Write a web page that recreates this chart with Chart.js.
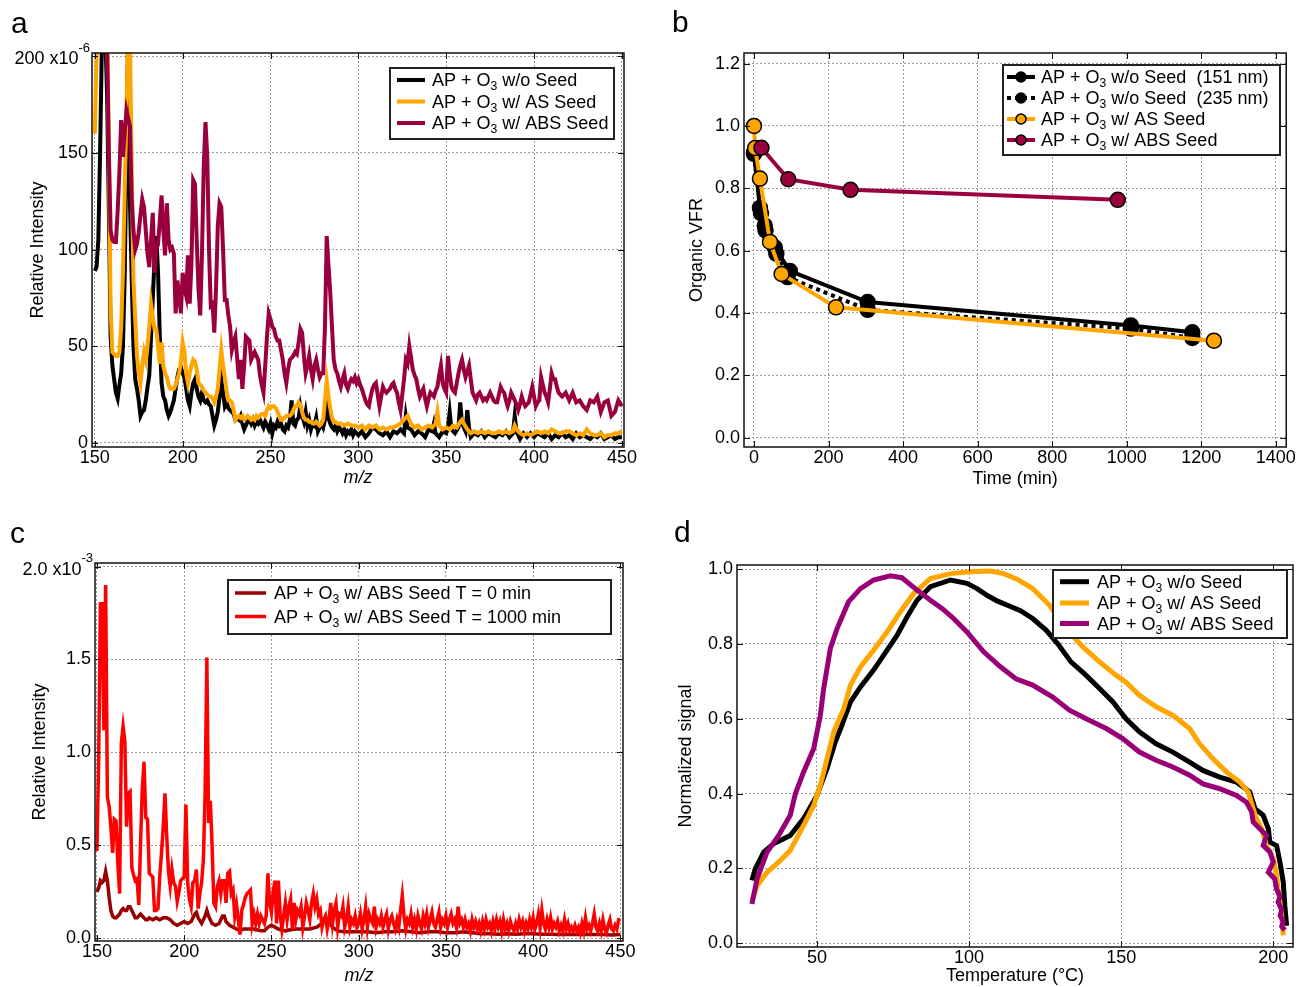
<!DOCTYPE html>
<html>
<head>
<meta charset="utf-8">
<script src="https://cdn.jsdelivr.net/npm/chart.js@4.4.0/dist/chart.umd.min.js"></script>
<style>
  body { margin: 0; background: #fff; width: 1296px; height: 987px; position: relative; overflow: hidden; }
  canvas { position: absolute; }
</style>
</head>
<body>
<canvas id="chartA" width="650" height="493" style="left:0;top:0"></canvas>
<canvas id="chartB" width="646" height="493" style="left:650px;top:0"></canvas>
<canvas id="chartC" width="650" height="494" style="left:0;top:493px"></canvas>
<canvas id="chartD" width="646" height="494" style="left:650px;top:493px"></canvas>
<script>
// ---------- panel a : mass spectra, [m/z, relative intensity x1e-6] ----------
const labelsA = ['AP + O₃ w/o Seed', 'AP + O₃ w/ AS Seed', 'AP + O₃ w/ ABS Seed'];
const xTicksA = [150, 200, 250, 300, 350, 400, 450];
const yTicksA = [0, 50, 100, 150, 200];

const blackA = [[150,89],[151,91],[152,105],[153,150],[154,205],[155,230],[156,210],[157,180],[158,120],[159,55],[160,40],[161,33],[162,26],[163,23],[164,30],[165,36],[166,50],[167,85],[168,150],[169,215],[170,125],[171,85],[172,50],[173,33],[174,28],[175,22],[176,14],[177,16],[178,17],[179,22],[180,29],[181,35],[182,55],[183,75],[184,95],[185,107],[186,88],[187,55],[188,31],[189,24],[190,22],[191,17],[192,14],[193,16],[194,19],[195,22],[196,28],[197,34],[198,38],[199,39],[200,36],[201,34],[202,28],[203,22],[204,19],[205,26],[206,31],[207,33],[208,28],[209,24],[210,22],[211,26],[212,22],[213,21],[214,22],[215,20],[216,19],[217,14],[218,9],[219,12],[220,16],[221,24],[222,33],[223,26],[224,19],[225,21],[226,18],[227,17],[228,16],[229,15],[230,12],[231,13],[232,12],[233,14],[234,10],[235,7],[236,9],[237,11],[238,12],[239,10],[240,12],[241,9],[242,11],[243,10],[244,12],[245,10],[246,8],[247,11],[248,9],[249,7],[250,10],[251,5],[252,9],[253,8],[254,11],[255,9],[256,10],[257,7],[258,6],[259,9],[260,8],[261,12],[262,22],[263,10],[264,9],[265,12],[266,13],[267,19],[268,14],[269,11],[270,16],[271,9],[272,12],[273,7],[274,10],[275,9],[276,13],[277,6],[278,8],[279,10],[280,8],[281,12],[282,24],[283,13],[284,10],[285,8],[286,7],[287,9],[288,6],[289,8],[290,7],[291,5],[292,7],[293,4],[294,6],[295,5],[296,7],[297,4],[298,6],[299,5],[300,4],[302,6],[304,3],[306,5],[308,8],[310,7],[312,5],[314,4],[316,6],[318,3],[320,6],[322,5],[324,7],[326,5],[327,14],[328,8],[330,7],[332,4],[334,6],[336,5],[338,3],[340,7],[342,6],[343,10],[344,5],[346,3],[348,6],[350,5],[351,8],[352,16],[353,7],[355,5],[357,8],[358,21],[359,10],[361,6],[362,17],[363,8],[364,3],[366,5],[368,4],[370,6],[372,3],[374,5],[376,4],[378,3],[380,5],[382,4],[384,6],[386,3],[388,5],[389,14],[390,6],[392,2],[394,5],[396,3],[398,5],[400,3],[402,5],[404,4],[406,3],[408,5],[410,2],[412,4],[414,3],[416,5],[418,3],[420,4],[422,2],[424,5],[426,3],[428,4],[430,3],[432,2],[434,4],[436,3],[438,5],[440,2],[442,3],[444,4],[446,2],[448,3],[450,3]];

const orangeA = [[150,160],[151,200],[152,230],[153,230],[154,210],[155,215],[156,230],[157,220],[158,150],[159,70],[160,47],[161,46],[162,45],[163,45],[164,47],[165,60],[166,88],[167,130],[168,170],[169,215],[170,210],[171,140],[172,84],[173,64],[174,45],[175,36],[176,31],[177,40],[178,47],[179,43],[180,50],[181,60],[182,72],[183,65],[184,59],[185,59],[186,50],[187,41],[188,52],[189,40],[190,36],[191,34],[192,30],[193,28],[194,28],[195,28],[196,30],[197,33],[198,36],[199,42],[200,52],[201,47],[202,36],[203,31],[204,36],[205,40],[206,43],[207,42],[208,38],[209,31],[210,30],[211,29],[212,27],[213,26],[214,25],[215,24],[216,24],[217,23],[218,21],[219,24],[220,28],[221,38],[222,48],[223,40],[224,34],[225,27],[226,22],[227,22],[228,21],[229,17],[230,12],[231,13],[232,14],[233,13],[234,14],[235,12],[236,13],[237,14],[238,13],[239,12],[240,13],[241,12],[242,14],[243,13],[244,14],[245,15],[246,15],[247,14],[248,17],[249,19],[250,18],[251,19],[252,19],[253,18],[254,16],[255,14],[256,12],[257,12],[258,13],[259,14],[260,14],[261,14],[262,15],[263,17],[264,19],[265,19],[266,21],[267,20],[268,16],[269,13],[270,12],[271,12],[272,11],[273,11],[274,10],[275,10],[276,11],[277,10],[278,9],[279,10],[280,12],[281,22],[282,32],[283,24],[284,18],[285,13],[286,11],[287,11],[288,10],[289,10],[290,10],[292,9],[294,10],[296,9],[298,9],[300,8],[302,9],[304,7],[306,9],[308,8],[310,9],[312,7],[314,8],[316,7],[318,8],[320,8],[322,9],[324,10],[326,12],[328,14],[330,10],[332,8],[334,9],[336,7],[338,8],[340,9],[342,8],[344,10],[345,16],[346,9],[348,7],[350,8],[352,7],[354,9],[356,8],[358,11],[359,12],[360,10],[362,7],[364,5],[366,6],[368,5],[370,6],[372,5],[374,6],[376,5],[378,5],[380,6],[382,5],[384,6],[386,5],[388,6],[389,9],[390,7],[392,5],[394,4],[396,5],[398,4],[400,5],[402,6],[404,5],[406,6],[408,5],[410,7],[412,6],[414,5],[416,5],[418,6],[420,6],[422,5],[424,4],[426,5],[428,4],[430,7],[432,5],[434,4],[436,4],[438,5],[440,3],[442,4],[444,4],[446,5],[448,5],[450,6]];

const absA = [[150,230],[152,240],[154,240],[156,230],[157,205],[158,150],[159,110],[160,105],[161,104],[162,104],[163,120],[164,140],[165,167],[166,148],[167,160],[168,172],[169,168],[170,164],[171,126],[172,110],[173,100],[174,103],[175,109],[176,118],[177,126],[178,122],[179,110],[180,98],[181,91],[182,105],[183,119],[184,88],[185,100],[186,103],[187,115],[188,128],[189,110],[190,97],[191,124],[192,105],[193,100],[194,101],[195,98],[196,67],[197,84],[198,76],[199,67],[200,88],[201,80],[202,76],[203,97],[204,72],[205,93],[206,136],[207,134],[208,105],[209,80],[210,66],[211,98],[212,143],[213,166],[214,148],[215,100],[216,71],[217,72],[218,57],[219,80],[220,112],[221,124],[222,122],[223,100],[224,74],[225,74],[226,66],[227,60],[228,48],[229,52],[230,55],[231,44],[232,33],[233,43],[234,28],[235,40],[236,55],[237,54],[238,53],[239,43],[240,45],[241,47],[242,45],[243,43],[244,35],[245,30],[246,26],[247,40],[248,55],[249,67],[250,64],[251,60],[252,59],[253,55],[254,53],[255,53],[256,48],[257,43],[258,36],[259,31],[260,38],[261,43],[262,44],[263,45],[264,47],[265,46],[266,52],[267,59],[268,57],[269,45],[270,36],[271,40],[272,45],[273,38],[274,33],[275,40],[276,43],[277,38],[278,34],[279,36],[280,36],[281,60],[282,107],[283,92],[284,78],[285,60],[286,43],[287,38],[288,36],[289,32],[290,29],[291,33],[292,36],[293,30],[294,28],[295,31],[296,33],[297,32],[298,34],[299,31],[300,33],[301,30],[302,28],[303,25],[304,22],[305,20],[306,19],[307,24],[308,28],[309,30],[310,31],[311,25],[312,19],[313,24],[314,29],[315,27],[316,26],[317,27],[318,28],[319,30],[320,31],[321,28],[322,26],[323,21],[324,17],[325,25],[326,33],[327,43],[328,41],[329,50],[330,44],[331,38],[332,35],[333,33],[334,28],[335,24],[336,26],[337,28],[338,23],[339,19],[340,23],[341,26],[342,25],[343,24],[344,27],[345,29],[346,35],[347,40],[348,31],[349,28],[350,26],[351,45],[352,36],[353,29],[354,27],[355,26],[356,31],[357,36],[358,40],[359,43],[360,38],[361,34],[362,37],[363,40],[364,33],[365,26],[366,24],[367,22],[368,25],[369,26],[370,24],[371,22],[372,23],[373,22],[374,24],[375,26],[376,24],[377,22],[378,21],[379,21],[380,25],[381,29],[382,27],[383,26],[384,22],[385,19],[386,22],[387,26],[388,24],[389,22],[390,20],[391,17],[392,20],[393,24],[394,21],[395,19],[396,20],[397,21],[398,25],[399,29],[400,24],[401,19],[402,21],[403,22],[404,34],[405,30],[406,26],[407,24],[408,21],[409,28],[410,36],[411,33],[412,33],[413,29],[414,26],[415,25],[416,24],[417,25],[418,26],[419,24],[420,22],[422,26],[424,21],[426,22],[428,19],[430,17],[432,22],[434,21],[436,24],[438,16],[440,21],[442,22],[444,14],[446,16],[448,22],[450,19]];

// ---------- panel b : organic volume fraction remaining vs time ----------
const labelsB = ['AP + O₃ w/o Seed  (151 nm)', 'AP + O₃ w/o Seed  (235 nm)', 'AP + O₃ w/ AS Seed', 'AP + O₃ w/ ABS Seed'];
const xTicksB = [0, 200, 400, 600, 800, 1000, 1200, 1400];
const yTicksB = [0, 0.2, 0.4, 0.6, 0.8, 1.0, 1.2];
const timeNoSeed151 = [0, 16, 29, 56, 96, 305, 1011, 1176];
const vfrNoSeed151 = [0.915, 0.737, 0.68, 0.61, 0.535, 0.435, 0.36, 0.338];
const timeNoSeed235 = [0, 19, 31, 60, 90, 305, 1011, 1176];
const vfrNoSeed235 = [0.91, 0.72, 0.665, 0.59, 0.515, 0.41, 0.35, 0.32];
const timeAS = [0, 3, 16, 43, 74, 220, 1234];
const vfrAS = [1.0, 0.929, 0.831, 0.628, 0.525, 0.418, 0.311];
const timeABS = [20, 92, 259, 976];
const vfrABS = [0.930, 0.829, 0.795, 0.763];

// ---------- panel c : ABS seed spectra, [m/z, relative intensity x1e-3] ----------
const labelsC = ['AP + O₃ w/ ABS Seed T = 0 min', 'AP + O₃ w/ ABS Seed T = 1000 min'];
const xTicksC = [150, 200, 250, 300, 350, 400, 450];
const yTicksC = [0, 0.5, 1.0, 1.5, 2.0];

const t0C = [[150,0.25],[151,0.27],[152,0.31],[153,0.30],[154,0.31],[155,0.36],[156,0.31],[157,0.22],[158,0.15],[159,0.12],[160,0.11],[161,0.11],[162,0.12],[163,0.13],[164,0.15],[165,0.16],[166,0.15],[167,0.15],[168,0.17],[169,0.17],[170,0.15],[171,0.13],[172,0.11],[173,0.11],[174,0.12],[175,0.13],[176,0.12],[177,0.11],[178,0.10],[179,0.10],[180,0.11],[182,0.10],[184,0.11],[186,0.10],[188,0.11],[190,0.11],[192,0.10],[194,0.08],[196,0.07],[198,0.08],[200,0.09],[202,0.08],[204,0.09],[206,0.13],[207,0.14],[208,0.11],[210,0.08],[212,0.12],[213,0.15],[214,0.12],[216,0.08],[218,0.07],[220,0.08],[222,0.12],[223,0.12],[224,0.09],[226,0.07],[228,0.06],[230,0.05],[232,0.04],[234,0.05],[236,0.05],[238,0.05],[240,0.05],[242,0.045],[244,0.04],[246,0.04],[248,0.06],[250,0.07],[252,0.06],[254,0.05],[256,0.045],[258,0.04],[260,0.045],[264,0.05],[268,0.05],[272,0.05],[276,0.06],[279,0.08],[281,0.11],[283,0.09],[285,0.06],[288,0.04],[292,0.035],[296,0.035],[300,0.035],[305,0.035],[310,0.03],[315,0.035],[320,0.035],[325,0.04],[330,0.035],[335,0.03],[340,0.035],[345,0.035],[350,0.03],[355,0.03],[360,0.035],[365,0.03],[370,0.025],[375,0.025],[380,0.022],[385,0.025],[390,0.022],[395,0.025],[400,0.025],[405,0.022],[410,0.022],[415,0.02],[420,0.022],[425,0.02],[430,0.022],[435,0.02],[440,0.02],[445,0.018],[450,0.02]];

const t1000C = [[150,0.47],[151,0.96],[152,1.80],[153,1.80],[154,1.12],[155,1.90],[156,0.76],[157,0.71],[158,0.60],[159,0.46],[160,0.64],[161,0.63],[162,0.40],[163,0.24],[164,1.05],[165,1.14],[166,1.06],[167,0.60],[168,0.78],[169,0.79],[170,0.38],[171,0.34],[172,0.31],[173,0.32],[174,0.18],[175,0.51],[176,0.80],[177,0.95],[178,0.65],[179,0.64],[180,0.35],[181,0.34],[182,0.33],[183,0.15],[184,0.15],[185,0.16],[186,0.33],[187,0.46],[188,0.60],[189,0.78],[190,0.55],[191,0.36],[192,0.28],[193,0.37],[194,0.30],[195,0.28],[196,0.20],[197,0.25],[198,0.31],[199,0.32],[200,0.33],[201,0.72],[202,0.30],[203,0.21],[204,0.17],[205,0.30],[206,0.31],[207,0.37],[208,0.16],[209,0.24],[210,0.30],[211,0.42],[212,0.78],[213,1.51],[214,0.62],[215,0.74],[216,0.50],[217,0.19],[218,0.17],[219,0.28],[220,0.31],[221,0.24],[222,0.31],[223,0.31],[224,0.19],[225,0.35],[226,0.36],[227,0.24],[228,0.26],[229,0.12],[230,0.18],[231,0.10],[232,0.02],[233,0.15],[234,0.18],[235,0.22],[236,0.24],[237,0.25],[238,0.26],[239,0.08],[240,0.13],[241,0.08],[242,0.13],[243,0.08],[244,0.12],[245,0.10],[246,0.08],[247,0.12],[248,0.35],[249,0.19],[250,0.14],[251,0.25],[252,0.31],[253,0.08],[254,0.31],[255,0.13],[256,0.05],[257,0.12],[258,0.19],[259,0.10],[260,0.17],[261,0.21],[262,0.05],[263,0.19],[264,0.10],[265,0.15],[266,0.13],[267,0.17],[268,0.06],[269,0.12],[270,0.19],[271,0.15],[272,0.10],[273,0.19],[274,0.24],[275,0.17],[276,0.21],[277,0.13],[278,0.15],[279,0.06],[280,0.10],[281,0.12],[282,0.05],[283,0.10],[284,0.19],[285,0.08],[286,0.15],[287,0.19],[288,0.06],[289,0.13],[290,0.12],[291,0.17],[292,0.06],[293,0.10],[294,0.17],[295,0.06],[296,0.10],[297,0.08],[298,0.12],[299,0.06],[300,0.08],[301,0.13],[302,0.05],[303,0.10],[304,0.17],[305,0.06],[306,0.13],[307,0.10],[308,0.08],[309,0.17],[310,0.06],[311,0.10],[312,0.08],[313,0.12],[314,0.06],[315,0.10],[316,0.13],[317,0.05],[318,0.10],[319,0.12],[320,0.08],[321,0.05],[322,0.10],[323,0.06],[324,0.15],[325,0.23],[326,0.12],[327,0.05],[328,0.10],[329,0.08],[330,0.13],[331,0.06],[332,0.10],[333,0.05],[334,0.12],[335,0.08],[336,0.05],[337,0.12],[338,0.08],[339,0.13],[340,0.06],[341,0.10],[342,0.14],[343,0.08],[344,0.06],[345,0.10],[346,0.14],[347,0.06],[348,0.10],[349,0.08],[350,0.12],[351,0.06],[352,0.10],[353,0.13],[354,0.08],[355,0.10],[356,0.06],[357,0.17],[358,0.08],[359,0.10],[360,0.06],[361,0.10],[362,0.06],[363,0.08],[364,0.04],[365,0.10],[366,0.06],[367,0.09],[368,0.05],[369,0.08],[370,0.04],[371,0.09],[372,0.05],[373,0.10],[374,0.06],[375,0.08],[376,0.04],[377,0.09],[378,0.05],[379,0.10],[380,0.06],[381,0.09],[382,0.04],[383,0.10],[384,0.05],[385,0.08],[386,0.04],[387,0.09],[388,0.06],[389,0.04],[390,0.08],[391,0.05],[392,0.10],[393,0.06],[394,0.09],[395,0.04],[396,0.08],[397,0.05],[398,0.10],[399,0.06],[400,0.11],[401,0.05],[402,0.08],[403,0.13],[404,0.06],[405,0.15],[406,0.08],[407,0.05],[408,0.10],[409,0.06],[410,0.11],[411,0.05],[412,0.08],[413,0.06],[414,0.09],[415,0.04],[416,0.07],[417,0.04],[418,0.10],[419,0.05],[420,0.08],[421,0.04],[422,0.06],[423,0.04],[424,0.07],[425,0.04],[426,0.06],[427,0.03],[428,0.08],[429,0.04],[430,0.11],[431,0.05],[432,0.07],[433,0.04],[434,0.08],[435,0.13],[436,0.06],[437,0.04],[438,0.08],[439,0.04],[440,0.10],[441,0.05],[442,0.03],[443,0.07],[444,0.10],[445,0.05],[446,0.04],[447,0.07],[448,0.05],[449,0.10],[450,0.10]];

// ---------- panel d : thermograms, [temperature degC, normalized signal] ----------
const labelsD = ['AP + O₃ w/o Seed', 'AP + O₃ w/ AS Seed', 'AP + O₃ w/ ABS Seed'];
const xTicksD = [50, 100, 150, 200];
const yTicksD = [0, 0.2, 0.4, 0.6, 0.8, 1.0];

const blackD = [[28.6,0.168],[29.7,0.199],[32.5,0.244],[35.7,0.266],[41.2,0.288],[45.6,0.333],[50,0.395],[53.3,0.467],[56,0.538],[58.2,0.583],[61,0.645],[64.3,0.685],[68.6,0.730],[73,0.783],[76.3,0.823],[79.6,0.872],[82.9,0.917],[87.3,0.953],[93.9,0.971],[99.3,0.962],[102.6,0.948],[105.9,0.930],[109.2,0.915],[113.6,0.900],[116.9,0.889],[120.9,0.868],[125.3,0.837],[129.1,0.801],[133.5,0.752],[138.5,0.716],[142.9,0.681],[147.3,0.645],[151.6,0.600],[156,0.565],[161.5,0.533],[167,0.511],[172.5,0.484],[176.9,0.462],[182.4,0.444],[187.9,0.431],[192.3,0.404],[194,0.360],[196.7,0.342],[198.4,0.306],[198.9,0.270],[201.1,0.261],[202.2,0.217],[203.3,0.163],[203.8,0.101],[204.4,0.047]];

const orangeD = [[28.6,0.114],[30.3,0.154],[33.6,0.190],[37.9,0.221],[41.2,0.248],[45.6,0.315],[48.9,0.368],[51.1,0.422],[53.3,0.493],[55.5,0.565],[58.8,0.627],[61,0.690],[64.3,0.739],[68.6,0.783],[73,0.832],[77.4,0.886],[81.8,0.935],[87.3,0.975],[93.9,0.988],[100.4,0.993],[107,0.995],[111.4,0.988],[115.8,0.973],[120.9,0.948],[126.4,0.904],[131.9,0.841],[137.4,0.792],[142.9,0.752],[148.4,0.716],[151.6,0.698],[156,0.663],[161.5,0.632],[167,0.609],[172.5,0.574],[175.8,0.533],[180.2,0.493],[184.6,0.458],[189,0.431],[191.8,0.404],[193.4,0.360],[194.5,0.333],[196.2,0.306],[197.8,0.261],[198.9,0.244],[200,0.226],[201.1,0.181],[201.6,0.145],[202.7,0.083],[203.3,0.021]];

const absD = [[28.6,0.105],[30.3,0.172],[33.6,0.244],[37.4,0.288],[41.2,0.342],[42.9,0.400],[45.6,0.458],[48.9,0.520],[51.1,0.609],[52.2,0.681],[54.4,0.788],[56.6,0.841],[60.4,0.913],[64.3,0.948],[68.6,0.971],[74.1,0.982],[77.9,0.977],[82.9,0.944],[87.3,0.917],[91.1,0.895],[94.4,0.872],[99.3,0.832],[104.8,0.779],[110.3,0.739],[115.4,0.707],[120.9,0.690],[127.5,0.658],[133,0.623],[138.5,0.600],[145.1,0.574],[150.5,0.547],[156,0.511],[161.5,0.489],[167,0.471],[172.5,0.449],[176.9,0.426],[182.4,0.413],[187.9,0.395],[191.2,0.377],[192.9,0.351],[193.4,0.324],[195.6,0.306],[197.8,0.288],[196.7,0.261],[198.9,0.244],[200,0.217],[198.4,0.190],[200.5,0.172],[201.1,0.145],[202.2,0.125],[201.6,0.110],[202.8,0.090],[202.3,0.074],[203.3,0.058],[202.8,0.045],[203.8,0.035]];

// ---------- shared styling ----------
const FONT = '"Liberation Sans", Arial, Helvetica, sans-serif';
Chart.defaults.font.family = FONT;
Chart.defaults.font.size = 18;
Chart.defaults.color = '#000';

const pts = arr => arr.map(p => ({ x: p[0], y: p[1] }));
const zip = (xs, ys) => xs.map((x, i) => ({ x: x, y: ys[i] }));

// text with a subscript 3 for "O₃"
function drawRich(ctx, str, x, yMid, size) {
  const base = yMid + size * 0.36;
  const segs = str.split('₃');
  ctx.textBaseline = 'alphabetic';
  ctx.textAlign = 'left';
  let cx = x;
  segs.forEach((s, i) => {
    if (i > 0) {
      ctx.font = (size * 0.68) + 'px ' + FONT;
      ctx.fillText('3', cx, base + size * 0.2);
      cx += ctx.measureText('3').width;
    }
    ctx.font = size + 'px ' + FONT;
    ctx.fillText(s, cx, base);
    cx += ctx.measureText(s).width;
  });
}

// frame, inward ticks, legend box, exponent label, panel letter
function decor(cfg) {
  return {
    id: 'decor',
    afterDatasetsDraw(chart) {
      const ctx = chart.ctx, a = chart.chartArea;
      const sx = chart.scales.x, sy = chart.scales.y;
      ctx.save();
      ctx.strokeStyle = '#111';
      ctx.lineWidth = 1;
      ctx.beginPath();
      sx.ticks.forEach(t => {
        const p = Math.round(sx.getPixelForValue(t.value)) + 0.5;
        ctx.moveTo(p, a.bottom); ctx.lineTo(p, a.bottom - 6);
        ctx.moveTo(p, a.top); ctx.lineTo(p, a.top + 6);
      });
      sy.ticks.forEach(t => {
        const p = Math.round(sy.getPixelForValue(t.value)) + 0.5;
        ctx.moveTo(a.left, p); ctx.lineTo(a.left + 6, p);
        ctx.moveTo(a.right, p); ctx.lineTo(a.right - 6, p);
      });
      ctx.stroke();
      ctx.lineWidth = 1.5;
      ctx.strokeRect(a.left, a.top, a.right - a.left, a.bottom - a.top);

      if (cfg.exp) {
        const y = sy.getPixelForValue(cfg.exp.value) + 3;
        const right = a.left - 2;
        ctx.fillStyle = '#000';
        ctx.textAlign = 'right';
        ctx.textBaseline = 'middle';
        ctx.font = '13px ' + FONT;
        ctx.fillText(cfg.exp.pow, right, y - 11);
        const pw = ctx.measureText(cfg.exp.pow).width;
        ctx.font = '18px ' + FONT;
        ctx.fillText(cfg.exp.base, right - pw, y);
      }

      const L = cfg.legend;
      ctx.fillStyle = '#fff';
      ctx.fillRect(L.x, L.y, L.w, L.h);
      ctx.strokeStyle = '#222';
      ctx.lineWidth = 2;
      ctx.strokeRect(L.x, L.y, L.w, L.h);
      L.order.forEach((di, r) => {
        const ds = chart.data.datasets[di];
        const yy = L.rows[r];
        ctx.save();
        ctx.strokeStyle = ds.borderColor;
        ctx.lineWidth = ds.borderWidth;
        ctx.setLineDash(ds.borderDash || []);
        ctx.beginPath();
        ctx.moveTo(L.s0, yy); ctx.lineTo(L.s1, yy);
        ctx.stroke();
        ctx.restore();
        if (ds.pointRadius > 0) {
          ctx.beginPath();
          ctx.arc((L.s0 + L.s1) / 2, yy, 5, 0, Math.PI * 2);
          ctx.fillStyle = ds.pointBackgroundColor;
          ctx.fill();
          ctx.lineWidth = 1.5;
          ctx.strokeStyle = '#000';
          ctx.stroke();
        }
        ctx.fillStyle = '#000';
        drawRich(ctx, ds.label, L.tx, yy, 18);
      });

      ctx.fillStyle = '#000';
      ctx.textAlign = 'left';
      ctx.textBaseline = 'alphabetic';
      ctx.font = '30px ' + FONT;
      ctx.fillText(cfg.letter[0], cfg.letter[1], cfg.letter[2]);
      ctx.restore();
    }
  };
}

function scales(o) {
  const common = {
    type: 'linear',
    grid: { color: '#9a9a9a', lineWidth: 1, drawTicks: false },
    border: { display: false, dash: [2, 2] }
  };
  return {
    x: Object.assign({}, common, {
      min: o.xmin, max: o.xmax,
      afterFit: s => { s.height = o.xh; },
      afterBuildTicks: s => { s.ticks = o.xt.map(v => ({ value: v })); },
      ticks: { padding: 0, maxRotation: 0, autoSkip: false, font: { size: 18 }, callback: v => String(v) },
      title: { display: true, text: o.xtitle, font: { size: 18, style: o.xitalic ? 'italic' : 'normal' }, padding: { top: 0, bottom: o.xtp } }
    }),
    y: Object.assign({}, common, {
      min: o.ymin, max: o.ymax,
      afterFit: s => { s.width = o.yw; },
      afterBuildTicks: s => { s.ticks = o.yt.map(v => ({ value: v })); },
      ticks: { padding: 4, font: { size: 18 }, callback: o.yfmt },
      title: { display: true, text: o.ytitle, font: { size: 18 }, padding: { top: o.ytp, bottom: 0 } }
    })
  };
}

function baseOptions(o) {
  return {
    responsive: false,
    animation: false,
    events: [],
    layout: { padding: { top: o.pt, right: o.pr, left: 0, bottom: 0 } },
    plugins: { legend: { display: false }, tooltip: { enabled: false } },
    scales: scales(o)
  };
}

const lineDs = (label, data, color, width) => ({
  label: label, data: data, borderColor: color, backgroundColor: color,
  borderWidth: width, pointRadius: 0, showLine: true, tension: 0, clip: 0
});

// ---------- panel a ----------
new Chart(document.getElementById('chartA'), {
  type: 'scatter',
  data: {
    datasets: [
      lineDs(labelsA[2], pts(absA), '#99003d', 4),
      lineDs(labelsA[1], pts(orangeA), '#ffa500', 4),
      lineDs(labelsA[0], pts(blackA), '#000000', 4)
    ]
  },
  options: baseOptions({
    pt: 53, pr: 26, xh: 46, yw: 92,
    xmin: 148.4, xmax: 451.2, ymin: -2.1, ymax: 201.7,
    xt: xTicksA, yt: yTicksA,
    yfmt: v => (v === 200 ? '' : String(v)),
    xtitle: 'm/z', xitalic: true, xtp: 4,
    ytitle: 'Relative Intensity', ytp: 27
  }),
  plugins: [decor({
    exp: { value: 200, base: '200 x10', pow: '-6' },
    legend: { x: 390, y: 68, w: 224, h: 71, rows: [80, 101.5, 123], s0: 397, s1: 425, tx: 432, order: [2, 1, 0] },
    letter: ['a', 11, 33]
  })]
});

// ---------- panel b ----------
const markerDs = (label, data, color, fill, dash, r) => ({
  label: label, data: data, borderColor: color, backgroundColor: fill,
  borderWidth: 4, borderDash: dash, showLine: true, tension: 0,
  pointRadius: r, pointBackgroundColor: fill, pointBorderColor: '#000', pointBorderWidth: 1.5
});

new Chart(document.getElementById('chartB'), {
  type: 'scatter',
  data: {
    datasets: [
      markerDs(labelsB[3], zip(timeABS, vfrABS), '#99003d', '#99003d', [], 7.5),
      markerDs(labelsB[2], zip(timeAS, vfrAS), '#ffa500', '#ffa500', [], 7.5),
      markerDs(labelsB[0], zip(timeNoSeed151, vfrNoSeed151), '#000000', '#000000', [], 7.5),
      markerDs(labelsB[1], zip(timeNoSeed235, vfrNoSeed235), '#000000', '#000000', [4, 4], 7.5)
    ]
  },
  options: baseOptions({
    pt: 53, pr: 9, xh: 46, yw: 94,
    xmin: -26.8, xmax: 1428, ymin: -0.03, ymax: 1.234,
    xt: xTicksB, yt: yTicksB,
    yfmt: v => v.toFixed(1),
    xtitle: 'Time (min)', xitalic: false, xtp: 3,
    ytitle: 'Organic VFR', ytp: 36
  }),
  plugins: [decor({
    legend: { x: 353, y: 65, w: 277, h: 90, rows: [77, 98, 119, 140], s0: 357, s1: 385, tx: 391, order: [2, 3, 1, 0] },
    letter: ['b', 22, 32]
  })]
});

// ---------- panel c ----------
new Chart(document.getElementById('chartC'), {
  type: 'scatter',
  data: {
    datasets: [
      lineDs(labelsC[1], pts(t1000C), '#ff0000', 3.5),
      lineDs(labelsC[0], pts(t0C), '#990000', 3.5)
    ]
  },
  options: baseOptions({
    pt: 70, pr: 27, xh: 46, yw: 95,
    xmin: 148.9, xmax: 451.5, ymin: -0.0145, ymax: 2.019,
    xt: xTicksC, yt: yTicksC,
    yfmt: v => (v === 2 ? '' : v.toFixed(1)),
    xtitle: 'm/z', xitalic: true, xtp: 0,
    ytitle: 'Relative Intensity', ytp: 29
  }),
  plugins: [decor({
    exp: { value: 2.0, base: '2.0 x10', pow: '-3' },
    legend: { x: 228, y: 87, w: 383, h: 54, rows: [100, 123.5], s0: 235, s1: 266, tx: 274, order: [1, 0] },
    letter: ['c', 10, 50]
  })]
});

// ---------- panel d ----------
new Chart(document.getElementById('chartD'), {
  type: 'scatter',
  data: {
    datasets: [
      lineDs(labelsD[2], pts(absD), '#990077', 5),
      lineDs(labelsD[1], pts(orangeD), '#ffa500', 5),
      lineDs(labelsD[0], pts(blackD), '#000000', 5)
    ]
  },
  options: baseOptions({
    pt: 72, pr: 3, xh: 40, yw: 87,
    xmin: 23.7, xmax: 206.5, ymin: -0.01, ymax: 1.011,
    xt: xTicksD, yt: yTicksD,
    yfmt: v => v.toFixed(1),
    xtitle: 'Temperature (°C)', xitalic: false, xtp: 0,
    ytitle: 'Normalized signal', ytp: 25
  }),
  plugins: [decor({
    legend: { x: 403, y: 77, w: 234, h: 68, rows: [88.7, 110, 130.5], s0: 410, s1: 439, tx: 447, order: [2, 1, 0] },
    letter: ['d', 24, 49]
  })]
});
</script>
</body>
</html>
